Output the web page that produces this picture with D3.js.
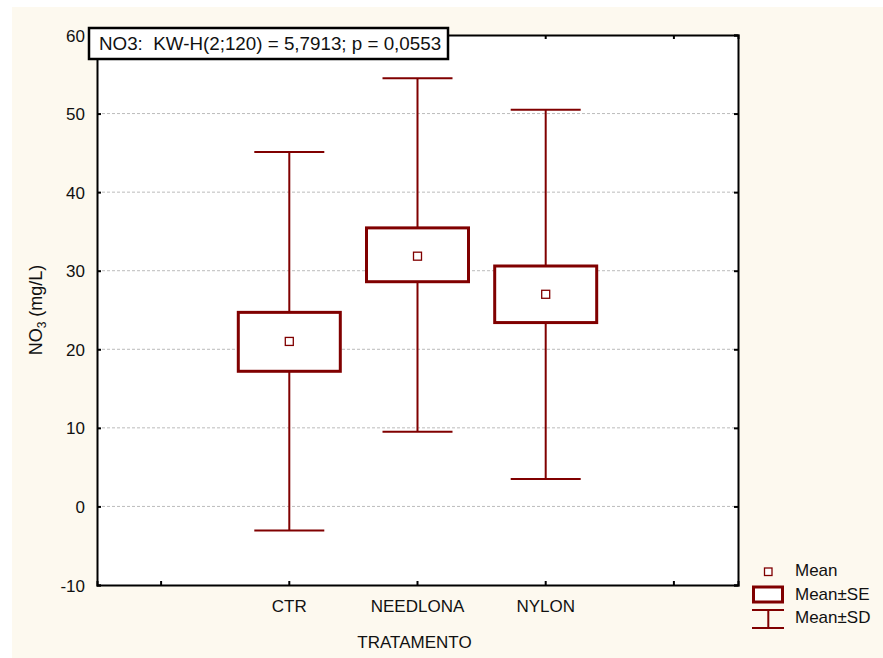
<!DOCTYPE html>
<html>
<head>
<meta charset="utf-8">
<script src="https://cdn.jsdelivr.net/npm/d3@7"></script>
<style>
  body { margin: 0; background: #fff; }
  text { font-family: "Liberation Sans", Arial, sans-serif; fill: #111; white-space: pre; }
</style>
</head>
<body>
<script>
// donnees
const slots = ['', 'CTR', 'NEEDLONA', 'NYLON', ' ']
const groups = ['CTR', 'NEEDLONA', 'NYLON']
const means = [21.0, 31.85, 27.0]
const seLow = [17.2, 28.6, 23.4]
const seHigh = [24.7, 35.45, 30.6]
const sdLow = [-3.05, 9.5, 3.5]
const sdHigh = [45.1, 54.5, 50.5]
const yTicks = [-10, 0, 10, 20, 30, 40, 50, 60]
const title = 'NO3:  KW-H(2;120) = 5,7913; p = 0,0553'

const red = '#800000'
const W = 883, H = 658
const pLeft = 97, pRight = 738, pTop = 35, pBottom = 585

let svg = d3.select('body')
    .append('svg')
    .attr('width', W)
    .attr('height', H)

// fond creme
svg.append('rect')
    .attr('x', 12).attr('y', 7)
    .attr('width', W - 12).attr('height', H - 7)
    .attr('fill', '#fdf9ef')

svg.append('rect')
    .attr('x', pLeft).attr('y', pTop)
    .attr('width', pRight - pLeft).attr('height', pBottom - pTop)
    .attr('fill', '#fff')

let x = d3.scaleBand().domain(slots).range([pLeft, pRight])
let y = d3.scaleLinear().domain([-10, 60]).range([pBottom, pTop])
let cx = d => x(d) + x.bandwidth() / 2

// grille
svg.append('g')
    .selectAll('line')
    .data(yTicks.filter(t => t > -10 && t < 60))
    .enter()
    .append('line')
    .attr('x1', pLeft).attr('x2', pRight)
    .attr('y1', d => y(d)).attr('y2', d => y(d))
    .attr('stroke', '#bbb')
    .attr('stroke-width', 1)
    .attr('stroke-dasharray', '3,2')

// axes (ticks vers l'interieur)
let yAxis = svg.append('g')
    .attr('transform', `translate(${pLeft},0)`)
    .call(d3.axisLeft(y).tickValues(yTicks).tickSize(-4).tickPadding(12).tickFormat(d => String(d)))
let yAxisR = svg.append('g')
    .attr('transform', `translate(${pRight},0)`)
    .call(d3.axisRight(y).tickValues(yTicks).tickSize(-4).tickFormat(''))
let xAxis = svg.append('g')
    .attr('transform', `translate(0,${pBottom})`)
    .call(d3.axisBottom(x).tickSize(-4).tickPadding(15))
let xAxisT = svg.append('g')
    .attr('transform', `translate(0,${pTop})`)
    .call(d3.axisTop(x).tickSize(-4).tickFormat(''))

for (let a of [yAxis, yAxisR, xAxis, xAxisT]) {
    a.select('.domain').attr('stroke', '#000').attr('stroke-width', 2)
    a.selectAll('.tick line').attr('stroke', '#000').attr('stroke-width', 2)
    a.selectAll('.tick text')
        .attr('font-family', '"Liberation Sans", Arial, sans-serif')
        .attr('font-size', 17)
        .attr('fill', '#111')
}
yAxis.selectAll('.tick text').attr('dy', '0.36em')
xAxis.selectAll('.tick text').attr('dy', '0.71em')

// boites
let g = svg.append('g')
let caps = 70, boxW = 102

g.selectAll('.whisker')
    .data(groups)
    .enter()
    .append('line')
    .attr('x1', d => cx(d)).attr('x2', d => cx(d))
    .attr('y1', (d, i) => y(sdHigh[i])).attr('y2', (d, i) => y(sdLow[i]))
    .attr('stroke', red).attr('stroke-width', 2)

for (let arr of [sdHigh, sdLow]) {
    g.selectAll(null)
        .data(groups)
        .enter()
        .append('line')
        .attr('x1', d => cx(d) - caps / 2).attr('x2', d => cx(d) + caps / 2)
        .attr('y1', (d, i) => y(arr[i])).attr('y2', (d, i) => y(arr[i]))
        .attr('stroke', red).attr('stroke-width', 2)
}

g.selectAll('.box')
    .data(groups)
    .enter()
    .append('rect')
    .attr('x', d => cx(d) - boxW / 2)
    .attr('width', boxW)
    .attr('y', (d, i) => y(seHigh[i]))
    .attr('height', (d, i) => y(seLow[i]) - y(seHigh[i]))
    .attr('fill', '#fff')
    .attr('stroke', red).attr('stroke-width', 3)

g.selectAll('.mean')
    .data(groups)
    .enter()
    .append('rect')
    .attr('x', d => cx(d) - 4)
    .attr('y', (d, i) => y(means[i]) - 4)
    .attr('width', 8).attr('height', 8)
    .attr('fill', '#fff')
    .attr('stroke', red).attr('stroke-width', 1.3)

// titre encadre
svg.append('rect')
    .attr('x', 89).attr('y', 28)
    .attr('width', 359).attr('height', 31)
    .attr('fill', '#fff')
    .attr('stroke', '#000').attr('stroke-width', 2.5)
svg.append('text')
    .text(title)
    .attr('x', 99).attr('y', 49.5)
    .attr('font-size', 18.8)

// libelles d'axes
svg.append('text')
    .text('TRATAMENTO')
    .attr('x', (pLeft + pRight) / 2 - 3).attr('y', 648)
    .attr('text-anchor', 'middle')
    .attr('font-size', 17)

let yl = svg.append('text')
    .attr('transform', 'translate(42,310) rotate(-90)')
    .attr('text-anchor', 'middle')
    .attr('font-size', 18)
yl.append('tspan').text('NO')
yl.append('tspan').text('3').attr('font-size', 12).attr('dy', 4)
yl.append('tspan').text(' (mg/L)').attr('dy', -4)

// legende
let lg = svg.append('g')
lg.append('rect')
    .attr('x', 764.5).attr('y', 568).attr('width', 7.5).attr('height', 7.5)
    .attr('fill', '#fff').attr('stroke', red).attr('stroke-width', 1.3)
lg.append('rect')
    .attr('x', 753.5).attr('y', 587).attr('width', 29).attr('height', 15)
    .attr('fill', '#fff').attr('stroke', red).attr('stroke-width', 3)
lg.append('line')
    .attr('x1', 752).attr('x2', 784).attr('y1', 610).attr('y2', 610)
    .attr('stroke', red).attr('stroke-width', 2)
lg.append('line')
    .attr('x1', 752).attr('x2', 784).attr('y1', 628).attr('y2', 628)
    .attr('stroke', red).attr('stroke-width', 2)
lg.append('line')
    .attr('x1', 768.3).attr('x2', 768.3).attr('y1', 610).attr('y2', 628)
    .attr('stroke', red).attr('stroke-width', 2)

lg.selectAll('text')
    .data(['Mean', 'Mean±SE', 'Mean±SD'])
    .enter()
    .append('text')
    .text(d => d)
    .attr('x', 795)
    .attr('y', (d, i) => 576 + i * 23.6)
    .attr('font-size', 17)
</script>
</body>
</html>
